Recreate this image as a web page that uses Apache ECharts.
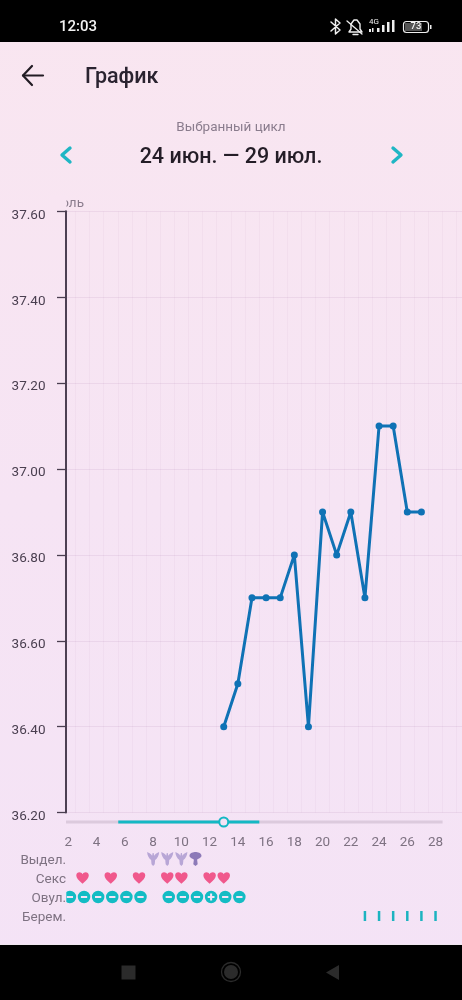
<!DOCTYPE html>
<html><head><meta charset="utf-8">
<style>html,body{margin:0;padding:0;background:#f6e4f4;overflow:hidden}#c{width:462px;height:1000px}</style>
<script src="https://cdn.jsdelivr.net/npm/echarts@6/dist/echarts.min.js"></script>
</head><body><div id="c"></div>
<script>
const days = ['2','3','4','5','6','7','8','9','10','11','12','13','14','15','16','17','18','19','20','21','22','23','24','25','26','27','28','29','30'];
const temperature = [null,null,null,null,null,null,null,null,null,null,null,36.4,36.5,36.7,36.7,36.7,36.8,36.4,36.9,36.8,36.9,36.7,37.1,37.1,36.9,36.9,null,null,null];
const rowLabels = ['Выдел.','Секс','Овул.','Берем.'];
const dischargeLightDays = [8,9,10];
const dischargeHeavyDays = [11];
const sexDays = [3,5,7,9,10,12,13];
const ovulationNegativeDays = [2,3,4,5,6,7,9,10,11,13,14];
const ovulationPositiveDays = [12];
const pregnancyDays = [23,24,25,26,27,28];
const cycleTrack = [1.83,28.5];
const fertileWindow = [5.53,15.52];
const ovulationDay = 13;
const yMin = 36.2, yMax = 37.6, yStep = 0.2;

const TEAL='#14b8c4', BG='#f5e3f5', BAND=14.12;
const P_HEART='path://M12 22C4 15.5 0 11.5 0 7C0 3 3 1 6 1C8.5 1 10.8 2.3 12 4.5C13.2 2.3 15.5 1 18 1C21 1 24 3 24 7C24 11.5 20 15.5 12 22z';
const P_MINUS='path://M12 0a12 12 0 1 0 0 24a12 12 0 1 0 0-24zM6 10h12v4H6z';
const P_PLUS='path://M12 0a12 12 0 1 0 0 24a12 12 0 1 0 0-24zM10 5.5h4v4.5h4.5v4H14v4.5h-4V14H5.5v-4H10z';
const P_LIGHT='path://M0 0C2 1 4 2 5 4L5.5 1C6 1 6 1 6.5 1L7 4C8 2 10 1 12 0C12 4 10 7 8 8.5L7.6 13L6 15L4.4 13L4 8.5C2 7 0 4 0 0z';
const P_DARK='path://M0 4C0 1 4 0 6 0C8 0 12 1 12 4C12 6 9 7 7.6 8L8.2 13L6 15L3.8 13L4.4 8C3 7 0 6 0 4z';

const rowScatter=(name,row,ds,symbol,size,color,extra)=>Object.assign({
  name,type:'scatter',xAxisIndex:1,yAxisIndex:1,symbol,symbolSize:size,
  itemStyle:{color,opacity:1},silent:true,z:2,
  data:ds.map(d=>[d,rowLabels[row]])},extra||{});

const txt=(x,y,text,font,fill,align,z)=>({type:'text',x,y,z:z||20,silent:true,
  style:{text,font,fill,align:align||'left',verticalAlign:'middle'}});
const rect=(x,y,w,h,fill,z)=>({type:'rect',z:z||20,silent:true,shape:{x,y,width:w,height:h},style:{fill}});
const stroke=(pts,color,w,z)=>({type:'polyline',z:z||20,silent:true,shape:{points:pts},style:{stroke:color,fill:null,lineWidth:w,lineCap:'round',lineJoin:'round'}});

const chrome=[
  rect(0,0,462,42,'#000'),
  txt(59,27.5,'12:03','500 15px Roboto','#f2f2f2'),
  stroke([[331,22],[340,30],[335.5,34],[335.5,19],[340,23],[331,31]],'#eee',1.5),
  stroke([[349,32],[362,32],[360,29],[360,24],[357,20],[354,20],[351,24],[351,29],[349,32]],'#eee',1.4),
  stroke([[353,34.5],[358,34.5]],'#eee',1.4),
  stroke([[347,21],[362,34]],'#eee',1.3),
  txt(369,21.5,'4G','8px Roboto','#eee'),
  rect(369,29,2,3,'#eee'),rect(372,28,1.5,4,'#eee'),rect(377,28,2.5,4,'#eee'),rect(382,25,2.5,7,'#eee'),rect(387,22,2.5,10,'#eee'),rect(392,20,2.5,12,'#eee'),
  {type:'rect',z:20,silent:true,shape:{x:403.5,y:21.5,width:25,height:11,r:3},style:{stroke:'#eee',fill:'#000',lineWidth:1.2}},
  rect(405,23,17,8,'#555',21),
  txt(416,27,'73','500 9.5px Roboto','#f4f4f4','center',22),
  rect(430,25,1.5,4,'#eee'),

  stroke([[43,75.5],[23,75.5]],'#221c24',2.2),
  stroke([[32,66],[23,75.5],[32,85]],'#221c24',2.2),
  txt(85,78,'График','500 21.5px Roboto','#2a2330'),
  txt(231,128,'Выбранный цикл','13.5px Roboto','#8a7c8d','center'),
  txt(231,157.5,'24 июн. — 29 июл.','500 21.5px Roboto','#241d27','center'),
  stroke([[70,148],[62,155],[70,162]],'#1fb6c4',3.4),
  stroke([[393,148],[401,155],[393,162]],'#1fb6c4',3.4),

  txt(84,204,'оль','13.5px Roboto','#8a7c8d','right',3),
  rect(50,195,16.5,15,'#f8e5f2',4),
  rect(56,888,10.3,18,BG,5),

  rect(0,945,462,55,'#000'),
  rect(0,944,462,1,'#efe6ee'),
  rect(121.5,965.5,14,14,'#2b2b2b'),
  {type:'circle',z:20,silent:true,shape:{cx:231,cy:972,r:9.5},style:{stroke:'#2b2b2b',fill:null,lineWidth:1.3}},
  {type:'circle',z:20,silent:true,shape:{cx:231,cy:972,r:7},style:{fill:'#2b2b2b'}},
  {type:'polygon',z:20,silent:true,shape:{points:[[339,965],[339,980],[326,972.5]]},style:{fill:'#2b2b2b'}}
];

const option={
  animation:false,
  backgroundColor:{type:'linear',x:0,y:0,x2:0,y2:1,colorStops:[{offset:0,color:'#f9e6f0'},{offset:.5,color:'#f6e4f4'},{offset:1,color:'#f4e3f6'}]},
  textStyle:{fontFamily:'Roboto'},
  grid:[
    {left:61.35,top:211.3,width:BAND*29,height:601.3,outerBoundsMode:'none'},
    {left:61.35,top:849.5,width:BAND*29,height:76,outerBoundsMode:'none'},
    {left:61.35,top:812,width:BAND*29,height:20,outerBoundsMode:'none'}
  ],
  xAxis:[
    {type:'category',gridIndex:0,data:days,boundaryGap:true,
     axisLine:{show:false},axisTick:{show:false},
     axisLabel:{margin:23.5,fontSize:13.5,color:'#7e7282',hideOverlap:false,
       interval:(i,v)=>i%2===0&&+v<=28},
     splitLine:{show:true,interval:0,showMinLine:false,lineStyle:{color:'rgba(130,70,130,0.045)',width:1}}},
    {type:'value',gridIndex:1,min:1.5,max:30.5,show:false},
    {type:'value',gridIndex:2,min:1.5,max:30.5,show:false}
  ],
  yAxis:[
    {type:'value',gridIndex:0,min:yMin,max:yMax,interval:yStep,offset:-4.65,
     axisLine:{show:true,lineStyle:{color:'#4d4053',width:2}},
     axisTick:{show:true,length:9,lineStyle:{color:'#4a3e50',width:1.3}},
     axisLabel:{margin:20.5,fontSize:13.5,color:'#4a3f50',verticalAlign:'top',lineHeight:8,formatter:v=>v.toFixed(2)},
     splitLine:{show:true,lineStyle:{color:'rgba(130,70,130,0.09)',width:1}}},
    {type:'category',gridIndex:1,data:rowLabels,inverse:true,offset:-4.65,z:10,
     axisLine:{show:false},axisTick:{show:false},splitLine:{show:false},
     axisLabel:{margin:0,fontSize:13.5,color:'#7e7282',interval:0,verticalAlign:'top',lineHeight:3}},
    {type:'category',gridIndex:2,data:['цикл'],show:false}
  ],
  series:[
    {name:'Температура',type:'line',xAxisIndex:0,yAxisIndex:0,data:temperature,connectNulls:false,
     symbol:'circle',symbolSize:7,showSymbol:true,showAllSymbol:true,silent:true,z:3,
     lineStyle:{color:'#0f72b5',width:3},itemStyle:{color:'#0f72b5'}},
    {name:'Цикл',type:'line',xAxisIndex:2,yAxisIndex:2,symbol:'none',silent:true,z:2,
     lineStyle:{color:'#dccadd',width:3,cap:'butt'},data:cycleTrack.map(d=>[d,'цикл'])},
    {name:'Фертильное окно',type:'line',xAxisIndex:2,yAxisIndex:2,symbol:'none',silent:true,z:3,
     lineStyle:{color:TEAL,width:3},data:fertileWindow.map(d=>[d,'цикл'])},
    {name:'Овуляция',type:'scatter',xAxisIndex:2,yAxisIndex:2,symbol:'circle',symbolSize:9,silent:true,z:4,
     itemStyle:{color:BG,borderColor:TEAL,borderWidth:2,opacity:1},data:[[ovulationDay,'цикл']]},
    rowScatter('Выдел. слабые',0,dischargeLightDays,P_LIGHT,[12,14],'#b8a6d6'),
    rowScatter('Выдел. сильные',0,dischargeHeavyDays,P_DARK,[12,14],'#8d7ab8'),
    rowScatter('Секс',1,sexDays,P_HEART,[12.5,11.5],'#f0588c'),
    rowScatter('Овул. минус',2,ovulationNegativeDays,P_MINUS,12.5,'#13bcc4',{symbolOffset:[1.5,0]}),
    rowScatter('Овул. плюс',2,ovulationPositiveDays,P_PLUS,12.5,'#13bcc4',{symbolOffset:[1.5,0]}),
    rowScatter('Берем.',3,pregnancyDays,'rect',[2.5,10],'#1cb3c0')
  ],
  graphic:{elements:chrome}
};
const chart=echarts.init(document.getElementById('c'),null,{renderer:'canvas',width:462,height:1000});
chart.setOption(option);
</script></body></html>
